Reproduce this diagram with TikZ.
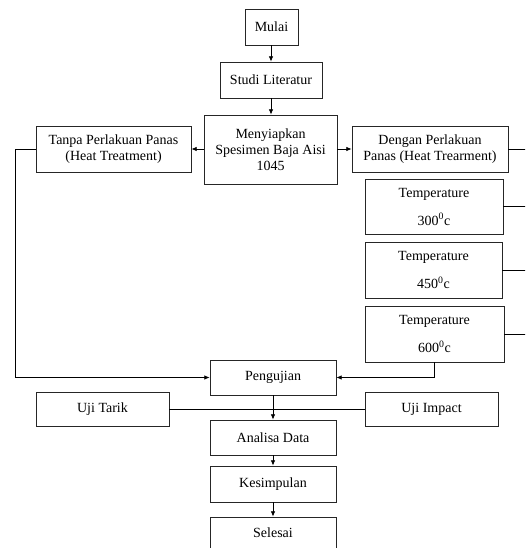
\documentclass[tikz,border=0pt]{standalone}
\usepackage{fontspec}
\setmainfont{Liberation Serif}
\usetikzlibrary{arrows.meta}
\begin{document}
\begin{tikzpicture}[x=0.75pt,y=-0.75pt,
 box/.style={draw=black!85, line width=0.6pt, inner sep=0pt, align=center, font=\fontsize{10.5}{12}\selectfont},
 arr/.style={-{Latex[length=4pt,width=3.5pt]}, line width=0.6pt},
 ln/.style={line width=0.6pt}]
\useasboundingbox (0,0) rectangle (525,548);
\clip (0,0) rectangle (525,548);
\node[box, minimum width=39.75pt, minimum height=27pt] (mulai) at (271.5,27) {Mulai};
\node[box, minimum width=76.5pt, minimum height=27pt] (studi) at (271,80) {Studi Literatur};
\node[box, minimum width=99.75pt, minimum height=51.75pt] (siap) at (270.5,149.5) {Menyiapkan\\Spesimen Baja Aisi\\1045};
\node[box, minimum width=116.25pt, minimum height=34.5pt] (tanpa) at (113.5,149) {Tanpa Perlakuan Panas\\(Heat Treatment)};
\node[box, minimum width=117pt, minimum height=34.5pt] (dengan) at (430,149) {Dengan Perlakuan\\Panas (Heat Trearment)};
\node[box, minimum width=103.5pt, minimum height=41.25pt] (t300) at (434,206.5) {Temperature\\[9pt]300\textsuperscript{0}c};
\node[box, minimum width=102.75pt, minimum height=42pt] (t450) at (433.5,270) {Temperature\\[9pt]450\textsuperscript{0}c};
\node[box, minimum width=104.25pt, minimum height=42pt] (t600) at (434.5,334) {Temperature\\[9pt]600\textsuperscript{0}c};
\node[box, minimum width=94.5pt, minimum height=26.25pt] (uji) at (273,377.5) {Pengujian};
\node[box, minimum width=99.75pt, minimum height=25.5pt] (tarik) at (102.5,409) {Uji Tarik};
\node[box, minimum width=99.75pt, minimum height=25.5pt] (impact) at (431.5,409) {Uji Impact};
\node[box, minimum width=94.5pt, minimum height=26.25pt] (analisa) at (273,437.5) {Analisa Data};
\node[box, minimum width=94.5pt, minimum height=27pt] (simpul) at (273,484) {Kesimpulan};
\node[box, minimum width=94.5pt, minimum height=24pt] (selesai) at (273,533) {Selesai};
\coordinate (lt) at (15,149);
\coordinate (re) at (526,0);
\draw[arr] (mulai.south -| studi.north) -- (studi.north);
\draw[arr] (studi.south) -- (studi.south |- siap.north);
\draw[arr] (siap.west |- tanpa.east) -- (tanpa.east);
\draw[arr] (siap.east |- dengan.west) -- (dengan.west);
\draw[arr] (tanpa.west) -- (lt) |- (uji.west);
\draw[ln] (dengan.east) -- (dengan.east -| re);
\draw[ln] (t300.east) -- (t300.east -| re);
\draw[ln] (t450.east) -- (t450.east -| re);
\draw[ln] (t600.east) -- (t600.east -| re);
\draw[arr] (t600.south) |- (uji.east);
\draw[ln] (tarik.east) -- (impact.west);
\draw[arr] (uji) -- (analisa);
\draw[arr] (analisa) -- (simpul);
\draw[arr] (simpul) -- (selesai);
\end{tikzpicture}
\end{document}
